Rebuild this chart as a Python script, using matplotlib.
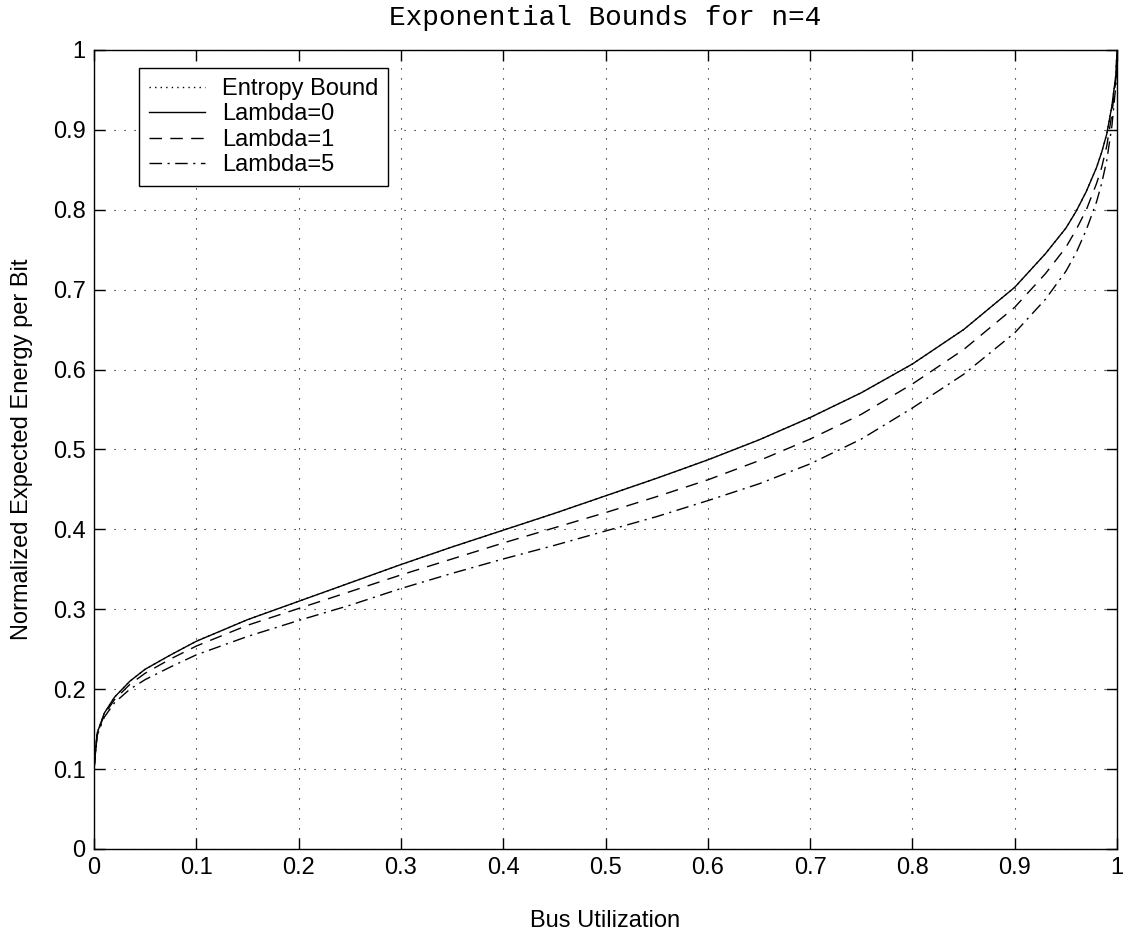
import matplotlib
matplotlib.use('Agg')
import matplotlib.pyplot as plt

plt.rcParams.update({'font.family': ['Liberation Sans', 'DejaVu Sans'], 'font.size': 17})

# bus utilization samples
util = [0.0, 0.003, 0.01, 0.02, 0.035, 0.05, 0.075, 0.1, 0.15, 0.2, 0.25, 0.3, 0.35,
        0.4, 0.45, 0.5, 0.55, 0.6, 0.65, 0.7, 0.75, 0.8, 0.85, 0.9, 0.93, 0.95,
        0.96, 0.97, 0.98, 0.985, 0.99, 0.995, 0.999, 1.0]

# normalized expected energy per bit
entropy = [0.10, 0.145, 0.170, 0.190, 0.210, 0.225, 0.243, 0.260, 0.287, 0.310, 0.333,
           0.356, 0.378, 0.399, 0.420, 0.442, 0.464, 0.487, 0.512, 0.540, 0.571, 0.607,
           0.650, 0.703, 0.745, 0.777, 0.798, 0.823, 0.853, 0.872, 0.895, 0.930, 0.970, 1.0]
lam0 = entropy
lam1 = [0.10, 0.144, 0.168, 0.187, 0.206, 0.220, 0.238, 0.254, 0.280, 0.301, 0.322,
        0.343, 0.363, 0.383, 0.402, 0.421, 0.441, 0.462, 0.486, 0.513, 0.544, 0.582,
        0.625, 0.678, 0.720, 0.753, 0.775, 0.800, 0.833, 0.853, 0.880, 0.920, 0.965, 1.0]
lam5 = [0.10, 0.142, 0.165, 0.183, 0.200, 0.212, 0.228, 0.243, 0.266, 0.286, 0.305,
        0.326, 0.345, 0.363, 0.380, 0.398, 0.416, 0.436, 0.457, 0.482, 0.513, 0.552,
        0.594, 0.646, 0.688, 0.723, 0.746, 0.775, 0.810, 0.833, 0.862, 0.905, 0.958, 1.0]

fig = plt.figure(figsize=(11.25, 9.38), dpi=100)
ax = fig.add_axes([0.0836, 0.0949, 0.9093, 0.8518])

ax.plot(util, entropy, color='black', lw=1.0, linestyle=(0, (1, 3)), label='Entropy Bound')
ax.plot(util, lam0, color='black', lw=1.0, linestyle='-', label='Lambda=0')
ax.plot(util, lam1, color='black', lw=1.0, linestyle=(0, (9, 6)), label='Lambda=1')
ax.plot(util, lam5, color='black', lw=1.0, linestyle=(0, (9, 4, 1.5, 4)), label='Lambda=5')

ax.set_xlim(0, 1)
ax.set_ylim(0, 1)
ticks = [i / 10 for i in range(11)]
labels = ['0'] + [f'{t:.1f}' for t in ticks[1:-1]] + ['1']
ax.set_xticks(ticks)
ax.set_xticklabels(labels)
ax.set_yticks(ticks)
ax.set_yticklabels(labels)
ax.tick_params(direction='in', top=True, right=True, length=8, width=1, labelsize=17, pad=6)
ax.grid(True, color='black', linestyle=(0, (1, 8)), lw=0.8)
for s in ax.spines.values():
    s.set_linewidth(1.0)

ax.set_xlabel('Bus Utilization', fontsize=17, labelpad=22)
ax.set_ylabel('Normalized Expected Energy per Bit', fontsize=17, labelpad=14)
ax.set_title('Exponential Bounds for n=4', fontsize=20, family='Liberation Mono', pad=18)

leg = ax.legend(loc='upper left', bbox_to_anchor=(0.044, 0.977), borderaxespad=0,
                fancybox=False, edgecolor='black', framealpha=1, fontsize=17,
                handlelength=2.4, labelspacing=0.15, borderpad=0.4, handletextpad=0.7)
leg.get_frame().set_linewidth(1.0)

fig.savefig('out.png', dpi=100)
